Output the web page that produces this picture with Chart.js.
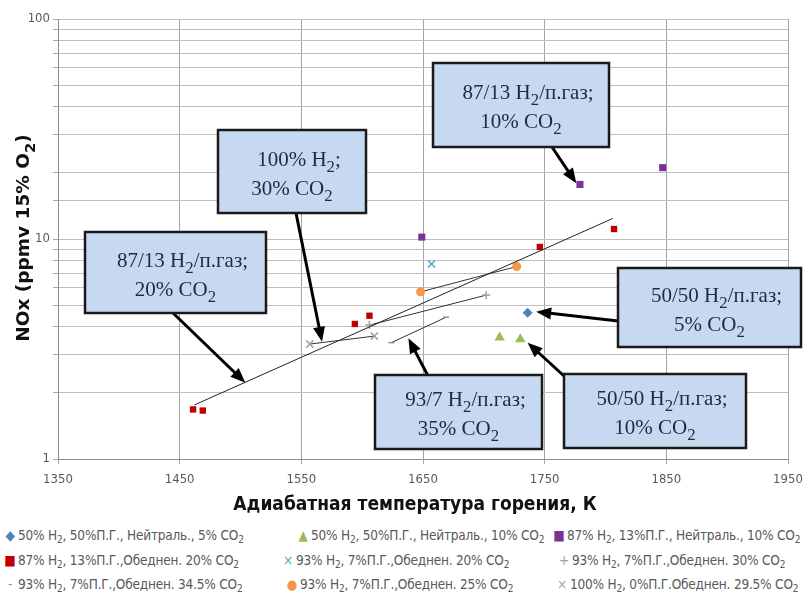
<!DOCTYPE html>
<html>
<head>
<meta charset="utf-8">
<script src="https://cdn.jsdelivr.net/npm/chart.js@4.4.1/dist/chart.umd.min.js"></script>
<style>
  body { margin: 0; background: #fff; }
  #wrap { position: relative; width: 812px; height: 595px; }
  #legend { position: absolute; left: 0; top: 526px; width: 812px; font-family: "DejaVu Sans Condensed", "Liberation Sans", sans-serif; font-size: 13.5px; color: #595959; }
  .item { position: absolute; white-space: nowrap; line-height: 18px; letter-spacing: -0.2px; }
  .item sub { font-size: 10px; vertical-align: -3px; line-height: 0; }
  .mk { display: inline-block; width: 12px; text-align: center; margin-right: 2px; }
</style>
</head>
<body>
<div id="wrap">
  <canvas id="chart" width="812" height="520"></canvas>
  <div id="legend"></div>
</div>
<script>
// series values (temperature in K, NOx in ppmv)
const labels = [
  '50% H<sub>2</sub>, 50%П.Г.,  Нейтраль., 5% CO<sub>2</sub>',
  '50% H<sub>2</sub>, 50%П.Г.,  Нейтраль., 10% CO<sub>2</sub>',
  '87% H<sub>2</sub>, 13%П.Г.,  Нейтраль., 10% CO<sub>2</sub>',
  '87% H<sub>2</sub>, 13%П.Г.,Обеднен. 20% CO<sub>2</sub>',
  '93% H<sub>2</sub>, 7%П.Г.,Обеднен. 20% CO<sub>2</sub>',
  '93% H<sub>2</sub>, 7%П.Г.,Обеднен. 30% CO<sub>2</sub>',
  '93% H<sub>2</sub>, 7%П.Г.,Обеднен. 34.5% CO<sub>2</sub>',
  '93% H<sub>2</sub>, 7%П.Г.,Обеднен. 25% CO<sub>2</sub>',
  '100% H<sub>2</sub>, 0%П.Г.Обеднен. 29.5% CO<sub>2</sub>'
];
const t50n5 = [1736], nox50n5 = [4.62];
const t50n10 = [1713, 1730], nox50n10 = [3.57, 3.50];
const t87n10 = [1649, 1779, 1847], nox87n10 = [10.2, 17.7, 21.1];
const t87l20 = [1461, 1469, 1594, 1606, 1746, 1807], nox87l20 = [1.68, 1.66, 4.11, 4.48, 9.2, 11.1];
const t93l20 = [1657], nox93l20 = [7.7];
const t93l30 = [1606, 1702], nox93l30 = [4.06, 5.56];
const t93l345 = [1624, 1669], nox93l345 = [3.38, 4.41];
const t93l25 = [1648, 1727], nox93l25 = [5.75, 7.5];
const t100l295 = [1557, 1610], nox100l295 = [3.33, 3.62];
// trend line for the 87/13 lean 20% series (end points)
const trendT = [1462, 1806], trendNOx = [1.76, 12.4];
const xTicks = [1350, 1450, 1550, 1650, 1750, 1850, 1950];

const colors = ['#4F81BD', '#9BBB59', '#7B3294', '#C00000', '#4BACC6', '#A0A0A0', '#909090', '#F79646', '#A0A0A0'];
const markers = ['◆', '▲', '■', '■', '×', '+', '-', '●', '×'];
const legendPos = [[4, 0], [297, 0], [553, 0], [4, 25], [282, 25], [558, 25], [4, 49], [286, 49], [556, 49]];

function pts(xs, ys) { return xs.map((x, i) => ({ x: x, y: ys[i] })); }

const datasets = [
  { data: pts(t50n5, nox50n5), pointStyle: 'rectRot', radius: 5 },
  { data: pts(t50n10, nox50n10), pointStyle: 'triangle', radius: 6 },
  { data: pts(t87n10, nox87n10), pointStyle: 'rect', radius: 5 },
  { data: pts(t87l20, nox87l20), pointStyle: 'rect', radius: 4.5 },
  { data: pts(t93l20, nox93l20), pointStyle: 'crossRot', radius: 5 },
  { data: pts(t93l30, nox93l30), pointStyle: 'cross', radius: 4 },
  { data: pts(t93l345, nox93l345), pointStyle: 'line', radius: 3 },
  { data: pts(t93l25, nox93l25), pointStyle: 'circle', radius: 4.5 },
  { data: pts(t100l295, nox100l295), pointStyle: 'crossRot', radius: 5 }
].map((d, i) => ({
  data: d.data,
  showLine: i >= 5,
  borderColor: '#333',
  borderWidth: 1,
  pointStyle: d.pointStyle,
  pointRadius: d.radius,
  pointBackgroundColor: colors[i],
  pointBorderColor: colors[i],
  pointBorderWidth: (d.pointStyle === 'cross' || d.pointStyle === 'crossRot' || d.pointStyle === 'line') ? 1.5 : 0
}));
datasets.unshift({
  data: pts(trendT, trendNOx), showLine: true, borderColor: '#222', borderWidth: 1, pointRadius: 0
});

const notes = [
  { box: [433, 63, 176, 84], lines: ['87/13 H_2/п.газ;', '10% CO_2'], from: [552, 147], to: [1776, 17.9] },
  { box: [218, 130, 148, 83], lines: ['100% H_2;', '30% CO_2'], from: [296, 213], to: [1567, 3.41] },
  { box: [85, 232, 181, 81], lines: ['87/13 H_2/п.газ;', '20% CO_2'], from: [173, 313], to: [1504, 2.22] },
  { box: [618, 268, 183, 79], lines: ['50/50 H_2/п.газ;', '5% CO_2'], from: [618, 321], to: [1743, 4.67] },
  { box: [375, 375, 167, 74], lines: ['93/7 H_2/п.газ;', '35% CO_2'], from: [428, 376], to: [1638, 3.54] },
  { box: [564, 374, 182, 74], lines: ['50/50 H_2/п.газ;', '10% CO_2'], from: [564, 376], to: [1736, 3.38] }
];

function richText(ctx, str, cx, base, size, font) {
  const parts = str.split('_2');
  const segs = [];
  parts.forEach((p, i) => {
    if (p) segs.push({ t: p, sub: false });
    if (i < parts.length - 1) segs.push({ t: '2', sub: true });
  });
  let w = 0;
  segs.forEach(s => {
    ctx.font = font.replace('SIZE', (s.sub ? size * 0.8 : size) + 'px');
    s.w = ctx.measureText(s.t).width;
    w += s.w;
  });
  let x = cx - w / 2;
  segs.forEach(s => {
    ctx.font = font.replace('SIZE', (s.sub ? size * 0.8 : size) + 'px');
    ctx.fillText(s.t, x, s.sub ? base + size * 0.3 : base);
    x += s.w;
  });
}

function arrow(ctx, x1, y1, x2, y2) {
  const a = Math.atan2(y2 - y1, x2 - x1);
  const L = 15, W = 6;
  ctx.strokeStyle = '#000';
  ctx.fillStyle = '#000';
  ctx.lineWidth = 3;
  ctx.beginPath();
  ctx.moveTo(x1, y1);
  ctx.lineTo(x2 - Math.cos(a) * L * 0.8, y2 - Math.sin(a) * L * 0.8);
  ctx.stroke();
  ctx.beginPath();
  ctx.moveTo(x2, y2);
  ctx.lineTo(x2 - Math.cos(a) * L - Math.sin(a) * W, y2 - Math.sin(a) * L + Math.cos(a) * W);
  ctx.lineTo(x2 - Math.cos(a) * L + Math.sin(a) * W, y2 - Math.sin(a) * L - Math.cos(a) * W);
  ctx.closePath();
  ctx.fill();
}

const decor = {
  id: 'decor',
  afterDraw(chart) {
    const ctx = chart.ctx;
    const xs = chart.scales.x, ys = chart.scales.y;
    ctx.save();
    // axis titles
    ctx.fillStyle = '#111';
    ctx.textAlign = 'left';
    ctx.textBaseline = 'alphabetic';
    ctx.font = 'bold 19px "Liberation Sans Narrow", "DejaVu Sans Condensed", sans-serif';
    const xt = 'Адиабатная температура горения, К';
    ctx.fillText(xt, 415 - ctx.measureText(xt).width / 2, 510);
    ctx.save();
    ctx.translate(29, 238);
    ctx.rotate(-Math.PI / 2);
    richText(ctx, 'NOx (ppmv 15% O_2)', 0, 0, 18.5, 'bold SIZE "DejaVu Sans", sans-serif');
    ctx.restore();
    // callout boxes and arrows
    notes.forEach(n => {
      arrow(ctx, n.from[0], n.from[1], xs.getPixelForValue(n.to[0]), ys.getPixelForValue(n.to[1]));
    });
    notes.forEach(n => {
      const [bx, by, bw, bh] = n.box;
      ctx.fillStyle = '#C6D9F1';
      ctx.fillRect(bx, by, bw, bh);
      ctx.strokeStyle = '#1a1a1a';
      ctx.lineWidth = 2.5;
      ctx.strokeRect(bx, by, bw, bh);
      ctx.fillStyle = '#1F2A3C';
      const cx = bx + bw / 2;
      const cy = by + bh / 2;
      richText(ctx, n.lines[0], cx + 7, cy - 6, 21, 'SIZE "Liberation Serif", serif');
      richText(ctx, n.lines[1], cx, cy + 23, 21, 'SIZE "Liberation Serif", serif');
    });
    ctx.restore();
  }
};

new Chart(document.getElementById('chart'), {
  type: 'scatter',
  data: { datasets: datasets },
  options: {
    responsive: false,
    animation: false,
    layout: { padding: { top: 19, right: 24, left: 0, bottom: 0 } },
    plugins: { legend: { display: false }, tooltip: { enabled: false } },
    scales: {
      x: {
        type: 'linear',
        min: xTicks[0],
        max: xTicks[xTicks.length - 1],
        afterBuildTicks: s => { s.ticks = xTicks.map(v => ({ value: v })); },
        afterFit: s => { s.height = 61; },
        grid: { color: '#A6A6A6', tickLength: 5, tickColor: '#A6A6A6' },
        border: { color: '#8C8C8C' },
        ticks: {
          color: '#595959', padding: 8,
          font: { family: '"Liberation Sans Narrow", "DejaVu Sans Condensed", sans-serif', size: 13 },
          callback: v => String(v)
        }
      },
      y: {
        type: 'logarithmic',
        min: 1,
        max: 100,
        afterFit: s => { s.width = 58; },
        grid: { color: '#BFBFBF', tickLength: 5, tickColor: '#A6A6A6' },
        border: { color: '#8C8C8C' },
        ticks: {
          color: '#595959',
          padding: 3,
          autoSkip: false,
          font: { family: '"Liberation Sans Narrow", "DejaVu Sans Condensed", sans-serif', size: 13 },
          callback: v => ([1, 10, 100].includes(v) ? String(v) : '')
        }
      }
    }
  },
  plugins: [decor]
});

const legend = document.getElementById('legend');
labels.forEach((l, i) => {
  const d = document.createElement('div');
  d.className = 'item';
  d.style.left = legendPos[i][0] + 'px';
  d.style.top = legendPos[i][1] + 'px';
  d.innerHTML = '<span class="mk" style="color:' + colors[i] + '">' + markers[i] + '</span>' + l;
  legend.appendChild(d);
});
</script>
</body>
</html>
